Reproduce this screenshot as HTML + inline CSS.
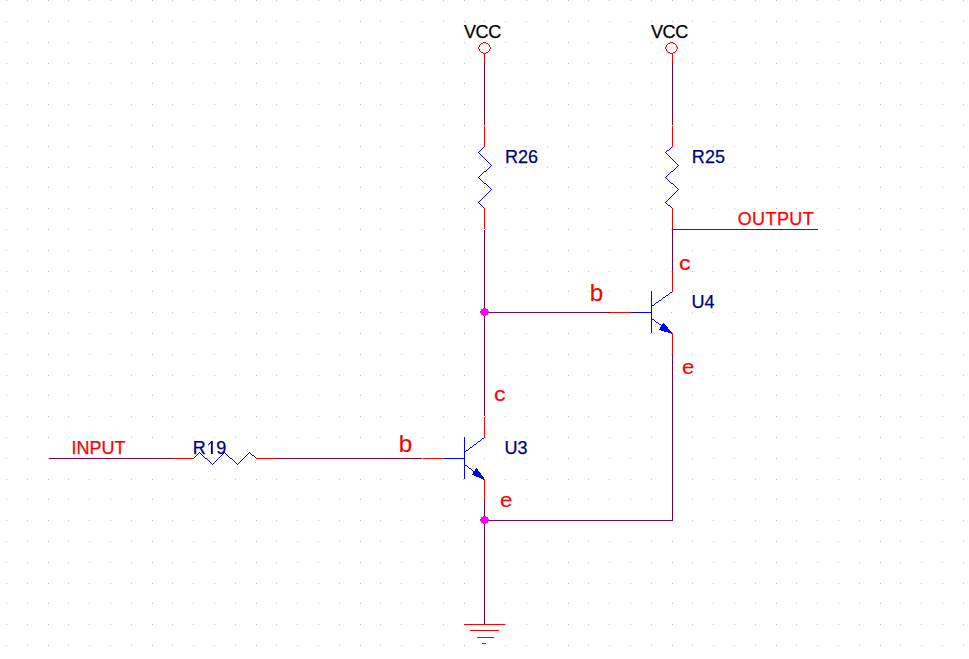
<!DOCTYPE html>
<html><head><meta charset="utf-8"><style>
html,body{margin:0;padding:0;background:#fff;width:969px;height:659px;overflow:hidden}
svg{display:block}
text{font-family:"Liberation Sans",sans-serif;stroke-width:0.25px}
</style></head><body>
<svg width="969" height="659" viewBox="0 0 969 659">
<path d="M6 0h1v1h-1zM6 21h1v1h-1zM6 42h1v1h-1zM6 63h1v1h-1zM6 83h1v1h-1zM6 104h1v1h-1zM6 125h1v1h-1zM6 146h1v1h-1zM6 167h1v1h-1zM6 187h1v1h-1zM6 208h1v1h-1zM6 229h1v1h-1zM6 250h1v1h-1zM6 271h1v1h-1zM6 291h1v1h-1zM6 312h1v1h-1zM6 333h1v1h-1zM6 354h1v1h-1zM6 375h1v1h-1zM6 395h1v1h-1zM6 416h1v1h-1zM6 437h1v1h-1zM6 458h1v1h-1zM6 479h1v1h-1zM6 499h1v1h-1zM6 520h1v1h-1zM6 541h1v1h-1zM6 562h1v1h-1zM6 583h1v1h-1zM6 603h1v1h-1zM6 624h1v1h-1zM6 645h1v1h-1zM27 0h1v1h-1zM27 21h1v1h-1zM27 42h1v1h-1zM27 63h1v1h-1zM27 83h1v1h-1zM27 104h1v1h-1zM27 125h1v1h-1zM27 146h1v1h-1zM27 167h1v1h-1zM27 187h1v1h-1zM27 208h1v1h-1zM27 229h1v1h-1zM27 250h1v1h-1zM27 271h1v1h-1zM27 291h1v1h-1zM27 312h1v1h-1zM27 333h1v1h-1zM27 354h1v1h-1zM27 375h1v1h-1zM27 395h1v1h-1zM27 416h1v1h-1zM27 437h1v1h-1zM27 458h1v1h-1zM27 479h1v1h-1zM27 499h1v1h-1zM27 520h1v1h-1zM27 541h1v1h-1zM27 562h1v1h-1zM27 583h1v1h-1zM27 603h1v1h-1zM27 624h1v1h-1zM27 645h1v1h-1zM48 0h1v1h-1zM48 21h1v1h-1zM48 42h1v1h-1zM48 63h1v1h-1zM48 83h1v1h-1zM48 104h1v1h-1zM48 125h1v1h-1zM48 146h1v1h-1zM48 167h1v1h-1zM48 187h1v1h-1zM48 208h1v1h-1zM48 229h1v1h-1zM48 250h1v1h-1zM48 271h1v1h-1zM48 291h1v1h-1zM48 312h1v1h-1zM48 333h1v1h-1zM48 354h1v1h-1zM48 375h1v1h-1zM48 395h1v1h-1zM48 416h1v1h-1zM48 437h1v1h-1zM48 458h1v1h-1zM48 479h1v1h-1zM48 499h1v1h-1zM48 520h1v1h-1zM48 541h1v1h-1zM48 562h1v1h-1zM48 583h1v1h-1zM48 603h1v1h-1zM48 624h1v1h-1zM48 645h1v1h-1zM68 0h1v1h-1zM68 21h1v1h-1zM68 42h1v1h-1zM68 63h1v1h-1zM68 83h1v1h-1zM68 104h1v1h-1zM68 125h1v1h-1zM68 146h1v1h-1zM68 167h1v1h-1zM68 187h1v1h-1zM68 208h1v1h-1zM68 229h1v1h-1zM68 250h1v1h-1zM68 271h1v1h-1zM68 291h1v1h-1zM68 312h1v1h-1zM68 333h1v1h-1zM68 354h1v1h-1zM68 375h1v1h-1zM68 395h1v1h-1zM68 416h1v1h-1zM68 437h1v1h-1zM68 458h1v1h-1zM68 479h1v1h-1zM68 499h1v1h-1zM68 520h1v1h-1zM68 541h1v1h-1zM68 562h1v1h-1zM68 583h1v1h-1zM68 603h1v1h-1zM68 624h1v1h-1zM68 645h1v1h-1zM89 0h1v1h-1zM89 21h1v1h-1zM89 42h1v1h-1zM89 63h1v1h-1zM89 83h1v1h-1zM89 104h1v1h-1zM89 125h1v1h-1zM89 146h1v1h-1zM89 167h1v1h-1zM89 187h1v1h-1zM89 208h1v1h-1zM89 229h1v1h-1zM89 250h1v1h-1zM89 271h1v1h-1zM89 291h1v1h-1zM89 312h1v1h-1zM89 333h1v1h-1zM89 354h1v1h-1zM89 375h1v1h-1zM89 395h1v1h-1zM89 416h1v1h-1zM89 437h1v1h-1zM89 458h1v1h-1zM89 479h1v1h-1zM89 499h1v1h-1zM89 520h1v1h-1zM89 541h1v1h-1zM89 562h1v1h-1zM89 583h1v1h-1zM89 603h1v1h-1zM89 624h1v1h-1zM89 645h1v1h-1zM110 0h1v1h-1zM110 21h1v1h-1zM110 42h1v1h-1zM110 63h1v1h-1zM110 83h1v1h-1zM110 104h1v1h-1zM110 125h1v1h-1zM110 146h1v1h-1zM110 167h1v1h-1zM110 187h1v1h-1zM110 208h1v1h-1zM110 229h1v1h-1zM110 250h1v1h-1zM110 271h1v1h-1zM110 291h1v1h-1zM110 312h1v1h-1zM110 333h1v1h-1zM110 354h1v1h-1zM110 375h1v1h-1zM110 395h1v1h-1zM110 416h1v1h-1zM110 437h1v1h-1zM110 458h1v1h-1zM110 479h1v1h-1zM110 499h1v1h-1zM110 520h1v1h-1zM110 541h1v1h-1zM110 562h1v1h-1zM110 583h1v1h-1zM110 603h1v1h-1zM110 624h1v1h-1zM110 645h1v1h-1zM131 0h1v1h-1zM131 21h1v1h-1zM131 42h1v1h-1zM131 63h1v1h-1zM131 83h1v1h-1zM131 104h1v1h-1zM131 125h1v1h-1zM131 146h1v1h-1zM131 167h1v1h-1zM131 187h1v1h-1zM131 208h1v1h-1zM131 229h1v1h-1zM131 250h1v1h-1zM131 271h1v1h-1zM131 291h1v1h-1zM131 312h1v1h-1zM131 333h1v1h-1zM131 354h1v1h-1zM131 375h1v1h-1zM131 395h1v1h-1zM131 416h1v1h-1zM131 437h1v1h-1zM131 458h1v1h-1zM131 479h1v1h-1zM131 499h1v1h-1zM131 520h1v1h-1zM131 541h1v1h-1zM131 562h1v1h-1zM131 583h1v1h-1zM131 603h1v1h-1zM131 624h1v1h-1zM131 645h1v1h-1zM152 0h1v1h-1zM152 21h1v1h-1zM152 42h1v1h-1zM152 63h1v1h-1zM152 83h1v1h-1zM152 104h1v1h-1zM152 125h1v1h-1zM152 146h1v1h-1zM152 167h1v1h-1zM152 187h1v1h-1zM152 208h1v1h-1zM152 229h1v1h-1zM152 250h1v1h-1zM152 271h1v1h-1zM152 291h1v1h-1zM152 312h1v1h-1zM152 333h1v1h-1zM152 354h1v1h-1zM152 375h1v1h-1zM152 395h1v1h-1zM152 416h1v1h-1zM152 437h1v1h-1zM152 458h1v1h-1zM152 479h1v1h-1zM152 499h1v1h-1zM152 520h1v1h-1zM152 541h1v1h-1zM152 562h1v1h-1zM152 583h1v1h-1zM152 603h1v1h-1zM152 624h1v1h-1zM152 645h1v1h-1zM172 0h1v1h-1zM172 21h1v1h-1zM172 42h1v1h-1zM172 63h1v1h-1zM172 83h1v1h-1zM172 104h1v1h-1zM172 125h1v1h-1zM172 146h1v1h-1zM172 167h1v1h-1zM172 187h1v1h-1zM172 208h1v1h-1zM172 229h1v1h-1zM172 250h1v1h-1zM172 271h1v1h-1zM172 291h1v1h-1zM172 312h1v1h-1zM172 333h1v1h-1zM172 354h1v1h-1zM172 375h1v1h-1zM172 395h1v1h-1zM172 416h1v1h-1zM172 437h1v1h-1zM172 458h1v1h-1zM172 479h1v1h-1zM172 499h1v1h-1zM172 520h1v1h-1zM172 541h1v1h-1zM172 562h1v1h-1zM172 583h1v1h-1zM172 603h1v1h-1zM172 624h1v1h-1zM172 645h1v1h-1zM193 0h1v1h-1zM193 21h1v1h-1zM193 42h1v1h-1zM193 63h1v1h-1zM193 83h1v1h-1zM193 104h1v1h-1zM193 125h1v1h-1zM193 146h1v1h-1zM193 167h1v1h-1zM193 187h1v1h-1zM193 208h1v1h-1zM193 229h1v1h-1zM193 250h1v1h-1zM193 271h1v1h-1zM193 291h1v1h-1zM193 312h1v1h-1zM193 333h1v1h-1zM193 354h1v1h-1zM193 375h1v1h-1zM193 395h1v1h-1zM193 416h1v1h-1zM193 437h1v1h-1zM193 458h1v1h-1zM193 479h1v1h-1zM193 499h1v1h-1zM193 520h1v1h-1zM193 541h1v1h-1zM193 562h1v1h-1zM193 583h1v1h-1zM193 603h1v1h-1zM193 624h1v1h-1zM193 645h1v1h-1zM214 0h1v1h-1zM214 21h1v1h-1zM214 42h1v1h-1zM214 63h1v1h-1zM214 83h1v1h-1zM214 104h1v1h-1zM214 125h1v1h-1zM214 146h1v1h-1zM214 167h1v1h-1zM214 187h1v1h-1zM214 208h1v1h-1zM214 229h1v1h-1zM214 250h1v1h-1zM214 271h1v1h-1zM214 291h1v1h-1zM214 312h1v1h-1zM214 333h1v1h-1zM214 354h1v1h-1zM214 375h1v1h-1zM214 395h1v1h-1zM214 416h1v1h-1zM214 437h1v1h-1zM214 458h1v1h-1zM214 479h1v1h-1zM214 499h1v1h-1zM214 520h1v1h-1zM214 541h1v1h-1zM214 562h1v1h-1zM214 583h1v1h-1zM214 603h1v1h-1zM214 624h1v1h-1zM214 645h1v1h-1zM235 0h1v1h-1zM235 21h1v1h-1zM235 42h1v1h-1zM235 63h1v1h-1zM235 83h1v1h-1zM235 104h1v1h-1zM235 125h1v1h-1zM235 146h1v1h-1zM235 167h1v1h-1zM235 187h1v1h-1zM235 208h1v1h-1zM235 229h1v1h-1zM235 250h1v1h-1zM235 271h1v1h-1zM235 291h1v1h-1zM235 312h1v1h-1zM235 333h1v1h-1zM235 354h1v1h-1zM235 375h1v1h-1zM235 395h1v1h-1zM235 416h1v1h-1zM235 437h1v1h-1zM235 458h1v1h-1zM235 479h1v1h-1zM235 499h1v1h-1zM235 520h1v1h-1zM235 541h1v1h-1zM235 562h1v1h-1zM235 583h1v1h-1zM235 603h1v1h-1zM235 624h1v1h-1zM235 645h1v1h-1zM256 0h1v1h-1zM256 21h1v1h-1zM256 42h1v1h-1zM256 63h1v1h-1zM256 83h1v1h-1zM256 104h1v1h-1zM256 125h1v1h-1zM256 146h1v1h-1zM256 167h1v1h-1zM256 187h1v1h-1zM256 208h1v1h-1zM256 229h1v1h-1zM256 250h1v1h-1zM256 271h1v1h-1zM256 291h1v1h-1zM256 312h1v1h-1zM256 333h1v1h-1zM256 354h1v1h-1zM256 375h1v1h-1zM256 395h1v1h-1zM256 416h1v1h-1zM256 437h1v1h-1zM256 458h1v1h-1zM256 479h1v1h-1zM256 499h1v1h-1zM256 520h1v1h-1zM256 541h1v1h-1zM256 562h1v1h-1zM256 583h1v1h-1zM256 603h1v1h-1zM256 624h1v1h-1zM256 645h1v1h-1zM276 0h1v1h-1zM276 21h1v1h-1zM276 42h1v1h-1zM276 63h1v1h-1zM276 83h1v1h-1zM276 104h1v1h-1zM276 125h1v1h-1zM276 146h1v1h-1zM276 167h1v1h-1zM276 187h1v1h-1zM276 208h1v1h-1zM276 229h1v1h-1zM276 250h1v1h-1zM276 271h1v1h-1zM276 291h1v1h-1zM276 312h1v1h-1zM276 333h1v1h-1zM276 354h1v1h-1zM276 375h1v1h-1zM276 395h1v1h-1zM276 416h1v1h-1zM276 437h1v1h-1zM276 458h1v1h-1zM276 479h1v1h-1zM276 499h1v1h-1zM276 520h1v1h-1zM276 541h1v1h-1zM276 562h1v1h-1zM276 583h1v1h-1zM276 603h1v1h-1zM276 624h1v1h-1zM276 645h1v1h-1zM297 0h1v1h-1zM297 21h1v1h-1zM297 42h1v1h-1zM297 63h1v1h-1zM297 83h1v1h-1zM297 104h1v1h-1zM297 125h1v1h-1zM297 146h1v1h-1zM297 167h1v1h-1zM297 187h1v1h-1zM297 208h1v1h-1zM297 229h1v1h-1zM297 250h1v1h-1zM297 271h1v1h-1zM297 291h1v1h-1zM297 312h1v1h-1zM297 333h1v1h-1zM297 354h1v1h-1zM297 375h1v1h-1zM297 395h1v1h-1zM297 416h1v1h-1zM297 437h1v1h-1zM297 458h1v1h-1zM297 479h1v1h-1zM297 499h1v1h-1zM297 520h1v1h-1zM297 541h1v1h-1zM297 562h1v1h-1zM297 583h1v1h-1zM297 603h1v1h-1zM297 624h1v1h-1zM297 645h1v1h-1zM318 0h1v1h-1zM318 21h1v1h-1zM318 42h1v1h-1zM318 63h1v1h-1zM318 83h1v1h-1zM318 104h1v1h-1zM318 125h1v1h-1zM318 146h1v1h-1zM318 167h1v1h-1zM318 187h1v1h-1zM318 208h1v1h-1zM318 229h1v1h-1zM318 250h1v1h-1zM318 271h1v1h-1zM318 291h1v1h-1zM318 312h1v1h-1zM318 333h1v1h-1zM318 354h1v1h-1zM318 375h1v1h-1zM318 395h1v1h-1zM318 416h1v1h-1zM318 437h1v1h-1zM318 458h1v1h-1zM318 479h1v1h-1zM318 499h1v1h-1zM318 520h1v1h-1zM318 541h1v1h-1zM318 562h1v1h-1zM318 583h1v1h-1zM318 603h1v1h-1zM318 624h1v1h-1zM318 645h1v1h-1zM339 0h1v1h-1zM339 21h1v1h-1zM339 42h1v1h-1zM339 63h1v1h-1zM339 83h1v1h-1zM339 104h1v1h-1zM339 125h1v1h-1zM339 146h1v1h-1zM339 167h1v1h-1zM339 187h1v1h-1zM339 208h1v1h-1zM339 229h1v1h-1zM339 250h1v1h-1zM339 271h1v1h-1zM339 291h1v1h-1zM339 312h1v1h-1zM339 333h1v1h-1zM339 354h1v1h-1zM339 375h1v1h-1zM339 395h1v1h-1zM339 416h1v1h-1zM339 437h1v1h-1zM339 458h1v1h-1zM339 479h1v1h-1zM339 499h1v1h-1zM339 520h1v1h-1zM339 541h1v1h-1zM339 562h1v1h-1zM339 583h1v1h-1zM339 603h1v1h-1zM339 624h1v1h-1zM339 645h1v1h-1zM360 0h1v1h-1zM360 21h1v1h-1zM360 42h1v1h-1zM360 63h1v1h-1zM360 83h1v1h-1zM360 104h1v1h-1zM360 125h1v1h-1zM360 146h1v1h-1zM360 167h1v1h-1zM360 187h1v1h-1zM360 208h1v1h-1zM360 229h1v1h-1zM360 250h1v1h-1zM360 271h1v1h-1zM360 291h1v1h-1zM360 312h1v1h-1zM360 333h1v1h-1zM360 354h1v1h-1zM360 375h1v1h-1zM360 395h1v1h-1zM360 416h1v1h-1zM360 437h1v1h-1zM360 458h1v1h-1zM360 479h1v1h-1zM360 499h1v1h-1zM360 520h1v1h-1zM360 541h1v1h-1zM360 562h1v1h-1zM360 583h1v1h-1zM360 603h1v1h-1zM360 624h1v1h-1zM360 645h1v1h-1zM380 0h1v1h-1zM380 21h1v1h-1zM380 42h1v1h-1zM380 63h1v1h-1zM380 83h1v1h-1zM380 104h1v1h-1zM380 125h1v1h-1zM380 146h1v1h-1zM380 167h1v1h-1zM380 187h1v1h-1zM380 208h1v1h-1zM380 229h1v1h-1zM380 250h1v1h-1zM380 271h1v1h-1zM380 291h1v1h-1zM380 312h1v1h-1zM380 333h1v1h-1zM380 354h1v1h-1zM380 375h1v1h-1zM380 395h1v1h-1zM380 416h1v1h-1zM380 437h1v1h-1zM380 458h1v1h-1zM380 479h1v1h-1zM380 499h1v1h-1zM380 520h1v1h-1zM380 541h1v1h-1zM380 562h1v1h-1zM380 583h1v1h-1zM380 603h1v1h-1zM380 624h1v1h-1zM380 645h1v1h-1zM401 0h1v1h-1zM401 21h1v1h-1zM401 42h1v1h-1zM401 63h1v1h-1zM401 83h1v1h-1zM401 104h1v1h-1zM401 125h1v1h-1zM401 146h1v1h-1zM401 167h1v1h-1zM401 187h1v1h-1zM401 208h1v1h-1zM401 229h1v1h-1zM401 250h1v1h-1zM401 271h1v1h-1zM401 291h1v1h-1zM401 312h1v1h-1zM401 333h1v1h-1zM401 354h1v1h-1zM401 375h1v1h-1zM401 395h1v1h-1zM401 416h1v1h-1zM401 437h1v1h-1zM401 458h1v1h-1zM401 479h1v1h-1zM401 499h1v1h-1zM401 520h1v1h-1zM401 541h1v1h-1zM401 562h1v1h-1zM401 583h1v1h-1zM401 603h1v1h-1zM401 624h1v1h-1zM401 645h1v1h-1zM422 0h1v1h-1zM422 21h1v1h-1zM422 42h1v1h-1zM422 63h1v1h-1zM422 83h1v1h-1zM422 104h1v1h-1zM422 125h1v1h-1zM422 146h1v1h-1zM422 167h1v1h-1zM422 187h1v1h-1zM422 208h1v1h-1zM422 229h1v1h-1zM422 250h1v1h-1zM422 271h1v1h-1zM422 291h1v1h-1zM422 312h1v1h-1zM422 333h1v1h-1zM422 354h1v1h-1zM422 375h1v1h-1zM422 395h1v1h-1zM422 416h1v1h-1zM422 437h1v1h-1zM422 458h1v1h-1zM422 479h1v1h-1zM422 499h1v1h-1zM422 520h1v1h-1zM422 541h1v1h-1zM422 562h1v1h-1zM422 583h1v1h-1zM422 603h1v1h-1zM422 624h1v1h-1zM422 645h1v1h-1zM443 0h1v1h-1zM443 21h1v1h-1zM443 42h1v1h-1zM443 63h1v1h-1zM443 83h1v1h-1zM443 104h1v1h-1zM443 125h1v1h-1zM443 146h1v1h-1zM443 167h1v1h-1zM443 187h1v1h-1zM443 208h1v1h-1zM443 229h1v1h-1zM443 250h1v1h-1zM443 271h1v1h-1zM443 291h1v1h-1zM443 312h1v1h-1zM443 333h1v1h-1zM443 354h1v1h-1zM443 375h1v1h-1zM443 395h1v1h-1zM443 416h1v1h-1zM443 437h1v1h-1zM443 458h1v1h-1zM443 479h1v1h-1zM443 499h1v1h-1zM443 520h1v1h-1zM443 541h1v1h-1zM443 562h1v1h-1zM443 583h1v1h-1zM443 603h1v1h-1zM443 624h1v1h-1zM443 645h1v1h-1zM464 0h1v1h-1zM464 21h1v1h-1zM464 42h1v1h-1zM464 63h1v1h-1zM464 83h1v1h-1zM464 104h1v1h-1zM464 125h1v1h-1zM464 146h1v1h-1zM464 167h1v1h-1zM464 187h1v1h-1zM464 208h1v1h-1zM464 229h1v1h-1zM464 250h1v1h-1zM464 271h1v1h-1zM464 291h1v1h-1zM464 312h1v1h-1zM464 333h1v1h-1zM464 354h1v1h-1zM464 375h1v1h-1zM464 395h1v1h-1zM464 416h1v1h-1zM464 437h1v1h-1zM464 458h1v1h-1zM463 479h1v1h-1zM464 499h1v1h-1zM464 520h1v1h-1zM464 541h1v1h-1zM464 562h1v1h-1zM464 583h1v1h-1zM464 603h1v1h-1zM464 624h1v1h-1zM464 645h1v1h-1zM484 0h1v1h-1zM484 21h1v1h-1zM484 42h1v1h-1zM484 63h1v1h-1zM484 83h1v1h-1zM484 104h1v1h-1zM484 125h1v1h-1zM484 146h1v1h-1zM484 167h1v1h-1zM484 187h1v1h-1zM484 208h1v1h-1zM485 229h1v1h-1zM484 250h1v1h-1zM484 271h1v1h-1zM484 291h1v1h-1zM484 312h1v1h-1zM484 333h1v1h-1zM484 354h1v1h-1zM484 375h1v1h-1zM484 395h1v1h-1zM485 416h1v1h-1zM485 437h1v1h-1zM484 458h1v1h-1zM484 479h1v1h-1zM484 499h1v1h-1zM484 520h1v1h-1zM484 541h1v1h-1zM484 562h1v1h-1zM484 583h1v1h-1zM484 603h1v1h-1zM484 624h1v1h-1zM484 645h1v1h-1zM505 0h1v1h-1zM505 21h1v1h-1zM505 42h1v1h-1zM505 63h1v1h-1zM505 83h1v1h-1zM505 104h1v1h-1zM505 125h1v1h-1zM505 146h1v1h-1zM505 167h1v1h-1zM505 187h1v1h-1zM505 208h1v1h-1zM505 229h1v1h-1zM505 250h1v1h-1zM505 271h1v1h-1zM505 291h1v1h-1zM505 312h1v1h-1zM505 333h1v1h-1zM505 354h1v1h-1zM505 375h1v1h-1zM505 395h1v1h-1zM505 416h1v1h-1zM505 437h1v1h-1zM505 458h1v1h-1zM505 479h1v1h-1zM505 499h1v1h-1zM505 520h1v1h-1zM505 541h1v1h-1zM505 562h1v1h-1zM505 583h1v1h-1zM505 603h1v1h-1zM505 624h1v1h-1zM505 645h1v1h-1zM526 0h1v1h-1zM526 21h1v1h-1zM526 42h1v1h-1zM526 63h1v1h-1zM526 83h1v1h-1zM526 104h1v1h-1zM526 125h1v1h-1zM526 146h1v1h-1zM526 167h1v1h-1zM526 187h1v1h-1zM526 208h1v1h-1zM526 229h1v1h-1zM526 250h1v1h-1zM526 271h1v1h-1zM526 291h1v1h-1zM526 312h1v1h-1zM526 333h1v1h-1zM526 354h1v1h-1zM526 375h1v1h-1zM526 395h1v1h-1zM526 416h1v1h-1zM526 437h1v1h-1zM526 458h1v1h-1zM526 479h1v1h-1zM526 499h1v1h-1zM526 520h1v1h-1zM526 541h1v1h-1zM526 562h1v1h-1zM526 583h1v1h-1zM526 603h1v1h-1zM526 624h1v1h-1zM526 645h1v1h-1zM547 0h1v1h-1zM547 21h1v1h-1zM547 42h1v1h-1zM547 63h1v1h-1zM547 83h1v1h-1zM547 104h1v1h-1zM547 125h1v1h-1zM547 146h1v1h-1zM547 167h1v1h-1zM547 187h1v1h-1zM547 208h1v1h-1zM547 229h1v1h-1zM547 250h1v1h-1zM547 271h1v1h-1zM547 291h1v1h-1zM547 312h1v1h-1zM547 333h1v1h-1zM547 354h1v1h-1zM547 375h1v1h-1zM547 395h1v1h-1zM547 416h1v1h-1zM547 437h1v1h-1zM547 458h1v1h-1zM547 479h1v1h-1zM547 499h1v1h-1zM547 520h1v1h-1zM547 541h1v1h-1zM547 562h1v1h-1zM547 583h1v1h-1zM547 603h1v1h-1zM547 624h1v1h-1zM547 645h1v1h-1zM568 0h1v1h-1zM568 21h1v1h-1zM568 42h1v1h-1zM568 63h1v1h-1zM568 83h1v1h-1zM568 104h1v1h-1zM568 125h1v1h-1zM568 146h1v1h-1zM568 167h1v1h-1zM568 187h1v1h-1zM568 208h1v1h-1zM568 229h1v1h-1zM568 250h1v1h-1zM568 271h1v1h-1zM568 291h1v1h-1zM568 312h1v1h-1zM568 333h1v1h-1zM568 354h1v1h-1zM568 375h1v1h-1zM568 395h1v1h-1zM568 416h1v1h-1zM568 437h1v1h-1zM568 458h1v1h-1zM568 479h1v1h-1zM568 499h1v1h-1zM568 520h1v1h-1zM568 541h1v1h-1zM568 562h1v1h-1zM568 583h1v1h-1zM568 603h1v1h-1zM568 624h1v1h-1zM568 645h1v1h-1zM588 0h1v1h-1zM588 21h1v1h-1zM588 42h1v1h-1zM588 63h1v1h-1zM588 83h1v1h-1zM588 104h1v1h-1zM588 125h1v1h-1zM588 146h1v1h-1zM588 167h1v1h-1zM588 187h1v1h-1zM588 208h1v1h-1zM588 229h1v1h-1zM588 250h1v1h-1zM588 271h1v1h-1zM588 291h1v1h-1zM588 312h1v1h-1zM588 333h1v1h-1zM588 354h1v1h-1zM588 375h1v1h-1zM588 395h1v1h-1zM588 416h1v1h-1zM588 437h1v1h-1zM588 458h1v1h-1zM588 479h1v1h-1zM588 499h1v1h-1zM588 520h1v1h-1zM588 541h1v1h-1zM588 562h1v1h-1zM588 583h1v1h-1zM588 603h1v1h-1zM588 624h1v1h-1zM588 645h1v1h-1zM609 0h1v1h-1zM609 21h1v1h-1zM609 42h1v1h-1zM609 63h1v1h-1zM609 83h1v1h-1zM609 104h1v1h-1zM609 125h1v1h-1zM609 146h1v1h-1zM609 167h1v1h-1zM609 187h1v1h-1zM609 208h1v1h-1zM609 229h1v1h-1zM609 250h1v1h-1zM609 271h1v1h-1zM609 291h1v1h-1zM609 312h1v1h-1zM609 333h1v1h-1zM609 354h1v1h-1zM609 375h1v1h-1zM609 395h1v1h-1zM609 416h1v1h-1zM609 437h1v1h-1zM609 458h1v1h-1zM609 479h1v1h-1zM609 499h1v1h-1zM609 520h1v1h-1zM609 541h1v1h-1zM609 562h1v1h-1zM609 583h1v1h-1zM609 603h1v1h-1zM609 624h1v1h-1zM609 645h1v1h-1zM630 0h1v1h-1zM630 21h1v1h-1zM630 42h1v1h-1zM630 63h1v1h-1zM630 83h1v1h-1zM630 104h1v1h-1zM630 125h1v1h-1zM630 146h1v1h-1zM630 167h1v1h-1zM630 187h1v1h-1zM630 208h1v1h-1zM630 229h1v1h-1zM630 250h1v1h-1zM630 271h1v1h-1zM630 291h1v1h-1zM630 312h1v1h-1zM630 333h1v1h-1zM630 354h1v1h-1zM630 375h1v1h-1zM630 395h1v1h-1zM630 416h1v1h-1zM630 437h1v1h-1zM630 458h1v1h-1zM630 479h1v1h-1zM630 499h1v1h-1zM630 520h1v1h-1zM630 541h1v1h-1zM630 562h1v1h-1zM630 583h1v1h-1zM630 603h1v1h-1zM630 624h1v1h-1zM630 645h1v1h-1zM651 0h1v1h-1zM651 21h1v1h-1zM651 42h1v1h-1zM651 63h1v1h-1zM651 83h1v1h-1zM651 104h1v1h-1zM651 125h1v1h-1zM651 146h1v1h-1zM651 167h1v1h-1zM651 187h1v1h-1zM651 208h1v1h-1zM651 229h1v1h-1zM651 250h1v1h-1zM651 271h1v1h-1zM651 291h1v1h-1zM651 312h1v1h-1zM650 333h1v1h-1zM651 354h1v1h-1zM651 375h1v1h-1zM651 395h1v1h-1zM651 416h1v1h-1zM651 437h1v1h-1zM651 458h1v1h-1zM651 479h1v1h-1zM651 499h1v1h-1zM651 520h1v1h-1zM651 541h1v1h-1zM651 562h1v1h-1zM651 583h1v1h-1zM651 603h1v1h-1zM651 624h1v1h-1zM651 645h1v1h-1zM672 0h1v1h-1zM672 21h1v1h-1zM672 42h1v1h-1zM672 63h1v1h-1zM672 83h1v1h-1zM672 104h1v1h-1zM672 125h1v1h-1zM672 146h1v1h-1zM672 167h1v1h-1zM672 187h1v1h-1zM672 208h1v1h-1zM671 229h1v1h-1zM672 250h1v1h-1zM671 271h1v1h-1zM672 291h1v1h-1zM671 312h1v1h-1zM672 333h1v1h-1zM671 354h1v1h-1zM672 375h1v1h-1zM672 395h1v1h-1zM672 416h1v1h-1zM672 437h1v1h-1zM672 458h1v1h-1zM672 479h1v1h-1zM672 499h1v1h-1zM672 520h1v1h-1zM672 541h1v1h-1zM672 562h1v1h-1zM672 583h1v1h-1zM672 603h1v1h-1zM672 624h1v1h-1zM672 645h1v1h-1zM692 0h1v1h-1zM692 21h1v1h-1zM692 42h1v1h-1zM692 63h1v1h-1zM692 83h1v1h-1zM692 104h1v1h-1zM692 125h1v1h-1zM692 146h1v1h-1zM692 167h1v1h-1zM692 187h1v1h-1zM692 208h1v1h-1zM692 229h1v1h-1zM692 250h1v1h-1zM692 271h1v1h-1zM692 291h1v1h-1zM692 312h1v1h-1zM692 333h1v1h-1zM692 354h1v1h-1zM692 375h1v1h-1zM692 395h1v1h-1zM692 416h1v1h-1zM692 437h1v1h-1zM692 458h1v1h-1zM692 479h1v1h-1zM692 499h1v1h-1zM692 520h1v1h-1zM692 541h1v1h-1zM692 562h1v1h-1zM692 583h1v1h-1zM692 603h1v1h-1zM692 624h1v1h-1zM692 645h1v1h-1zM713 0h1v1h-1zM713 21h1v1h-1zM713 42h1v1h-1zM713 63h1v1h-1zM713 83h1v1h-1zM713 104h1v1h-1zM713 125h1v1h-1zM713 146h1v1h-1zM713 167h1v1h-1zM713 187h1v1h-1zM713 208h1v1h-1zM713 229h1v1h-1zM713 250h1v1h-1zM713 271h1v1h-1zM713 291h1v1h-1zM713 312h1v1h-1zM713 333h1v1h-1zM713 354h1v1h-1zM713 375h1v1h-1zM713 395h1v1h-1zM713 416h1v1h-1zM713 437h1v1h-1zM713 458h1v1h-1zM713 479h1v1h-1zM713 499h1v1h-1zM713 520h1v1h-1zM713 541h1v1h-1zM713 562h1v1h-1zM713 583h1v1h-1zM713 603h1v1h-1zM713 624h1v1h-1zM713 645h1v1h-1zM734 0h1v1h-1zM734 21h1v1h-1zM734 42h1v1h-1zM734 63h1v1h-1zM734 83h1v1h-1zM734 104h1v1h-1zM734 125h1v1h-1zM734 146h1v1h-1zM734 167h1v1h-1zM734 187h1v1h-1zM734 208h1v1h-1zM734 229h1v1h-1zM734 250h1v1h-1zM734 271h1v1h-1zM734 291h1v1h-1zM734 312h1v1h-1zM734 333h1v1h-1zM734 354h1v1h-1zM734 375h1v1h-1zM734 395h1v1h-1zM734 416h1v1h-1zM734 437h1v1h-1zM734 458h1v1h-1zM734 479h1v1h-1zM734 499h1v1h-1zM734 520h1v1h-1zM734 541h1v1h-1zM734 562h1v1h-1zM734 583h1v1h-1zM734 603h1v1h-1zM734 624h1v1h-1zM734 645h1v1h-1zM755 0h1v1h-1zM755 21h1v1h-1zM755 42h1v1h-1zM755 63h1v1h-1zM755 83h1v1h-1zM755 104h1v1h-1zM755 125h1v1h-1zM755 146h1v1h-1zM755 167h1v1h-1zM755 187h1v1h-1zM754 208h1v1h-1zM755 229h1v1h-1zM755 250h1v1h-1zM755 271h1v1h-1zM755 291h1v1h-1zM755 312h1v1h-1zM755 333h1v1h-1zM755 354h1v1h-1zM755 375h1v1h-1zM755 395h1v1h-1zM755 416h1v1h-1zM755 437h1v1h-1zM755 458h1v1h-1zM755 479h1v1h-1zM755 499h1v1h-1zM755 520h1v1h-1zM755 541h1v1h-1zM755 562h1v1h-1zM755 583h1v1h-1zM755 603h1v1h-1zM755 624h1v1h-1zM755 645h1v1h-1zM776 0h1v1h-1zM776 21h1v1h-1zM776 42h1v1h-1zM776 63h1v1h-1zM776 83h1v1h-1zM776 104h1v1h-1zM776 125h1v1h-1zM776 146h1v1h-1zM776 167h1v1h-1zM776 187h1v1h-1zM776 208h1v1h-1zM776 229h1v1h-1zM776 250h1v1h-1zM776 271h1v1h-1zM776 291h1v1h-1zM776 312h1v1h-1zM776 333h1v1h-1zM776 354h1v1h-1zM776 375h1v1h-1zM776 395h1v1h-1zM776 416h1v1h-1zM776 437h1v1h-1zM776 458h1v1h-1zM776 479h1v1h-1zM776 499h1v1h-1zM776 520h1v1h-1zM776 541h1v1h-1zM776 562h1v1h-1zM776 583h1v1h-1zM776 603h1v1h-1zM776 624h1v1h-1zM776 645h1v1h-1zM796 0h1v1h-1zM796 21h1v1h-1zM796 42h1v1h-1zM796 63h1v1h-1zM796 83h1v1h-1zM796 104h1v1h-1zM796 125h1v1h-1zM796 146h1v1h-1zM796 167h1v1h-1zM796 187h1v1h-1zM796 208h1v1h-1zM796 229h1v1h-1zM796 250h1v1h-1zM796 271h1v1h-1zM796 291h1v1h-1zM796 312h1v1h-1zM796 333h1v1h-1zM796 354h1v1h-1zM796 375h1v1h-1zM796 395h1v1h-1zM796 416h1v1h-1zM796 437h1v1h-1zM796 458h1v1h-1zM796 479h1v1h-1zM796 499h1v1h-1zM796 520h1v1h-1zM796 541h1v1h-1zM796 562h1v1h-1zM796 583h1v1h-1zM796 603h1v1h-1zM796 624h1v1h-1zM796 645h1v1h-1zM817 0h1v1h-1zM817 21h1v1h-1zM817 42h1v1h-1zM817 63h1v1h-1zM817 83h1v1h-1zM817 104h1v1h-1zM817 125h1v1h-1zM817 146h1v1h-1zM817 167h1v1h-1zM817 187h1v1h-1zM817 208h1v1h-1zM817 229h1v1h-1zM817 250h1v1h-1zM817 271h1v1h-1zM817 291h1v1h-1zM817 312h1v1h-1zM817 333h1v1h-1zM817 354h1v1h-1zM817 375h1v1h-1zM817 395h1v1h-1zM817 416h1v1h-1zM817 437h1v1h-1zM817 458h1v1h-1zM817 479h1v1h-1zM817 499h1v1h-1zM817 520h1v1h-1zM817 541h1v1h-1zM817 562h1v1h-1zM817 583h1v1h-1zM817 603h1v1h-1zM817 624h1v1h-1zM817 645h1v1h-1zM838 0h1v1h-1zM838 21h1v1h-1zM838 42h1v1h-1zM838 63h1v1h-1zM838 83h1v1h-1zM838 104h1v1h-1zM838 125h1v1h-1zM838 146h1v1h-1zM838 167h1v1h-1zM838 187h1v1h-1zM838 208h1v1h-1zM838 229h1v1h-1zM838 250h1v1h-1zM838 271h1v1h-1zM838 291h1v1h-1zM838 312h1v1h-1zM838 333h1v1h-1zM838 354h1v1h-1zM838 375h1v1h-1zM838 395h1v1h-1zM838 416h1v1h-1zM838 437h1v1h-1zM838 458h1v1h-1zM838 479h1v1h-1zM838 499h1v1h-1zM838 520h1v1h-1zM838 541h1v1h-1zM838 562h1v1h-1zM838 583h1v1h-1zM838 603h1v1h-1zM838 624h1v1h-1zM838 645h1v1h-1zM859 0h1v1h-1zM859 21h1v1h-1zM859 42h1v1h-1zM859 63h1v1h-1zM859 83h1v1h-1zM859 104h1v1h-1zM859 125h1v1h-1zM859 146h1v1h-1zM859 167h1v1h-1zM859 187h1v1h-1zM859 208h1v1h-1zM859 229h1v1h-1zM859 250h1v1h-1zM859 271h1v1h-1zM859 291h1v1h-1zM859 312h1v1h-1zM859 333h1v1h-1zM859 354h1v1h-1zM859 375h1v1h-1zM859 395h1v1h-1zM859 416h1v1h-1zM859 437h1v1h-1zM859 458h1v1h-1zM859 479h1v1h-1zM859 499h1v1h-1zM859 520h1v1h-1zM859 541h1v1h-1zM859 562h1v1h-1zM859 583h1v1h-1zM859 603h1v1h-1zM859 624h1v1h-1zM859 645h1v1h-1zM880 0h1v1h-1zM880 21h1v1h-1zM880 42h1v1h-1zM880 63h1v1h-1zM880 83h1v1h-1zM880 104h1v1h-1zM880 125h1v1h-1zM880 146h1v1h-1zM880 167h1v1h-1zM880 187h1v1h-1zM880 208h1v1h-1zM880 229h1v1h-1zM880 250h1v1h-1zM880 271h1v1h-1zM880 291h1v1h-1zM880 312h1v1h-1zM880 333h1v1h-1zM880 354h1v1h-1zM880 375h1v1h-1zM880 395h1v1h-1zM880 416h1v1h-1zM880 437h1v1h-1zM880 458h1v1h-1zM880 479h1v1h-1zM880 499h1v1h-1zM880 520h1v1h-1zM880 541h1v1h-1zM880 562h1v1h-1zM880 583h1v1h-1zM880 603h1v1h-1zM880 624h1v1h-1zM880 645h1v1h-1zM900 0h1v1h-1zM900 21h1v1h-1zM900 42h1v1h-1zM900 63h1v1h-1zM900 83h1v1h-1zM900 104h1v1h-1zM900 125h1v1h-1zM900 146h1v1h-1zM900 167h1v1h-1zM900 187h1v1h-1zM900 208h1v1h-1zM900 229h1v1h-1zM900 250h1v1h-1zM900 271h1v1h-1zM900 291h1v1h-1zM900 312h1v1h-1zM900 333h1v1h-1zM900 354h1v1h-1zM900 375h1v1h-1zM900 395h1v1h-1zM900 416h1v1h-1zM900 437h1v1h-1zM900 458h1v1h-1zM900 479h1v1h-1zM900 499h1v1h-1zM900 520h1v1h-1zM900 541h1v1h-1zM900 562h1v1h-1zM900 583h1v1h-1zM900 603h1v1h-1zM900 624h1v1h-1zM900 645h1v1h-1zM921 0h1v1h-1zM921 21h1v1h-1zM921 42h1v1h-1zM921 63h1v1h-1zM921 83h1v1h-1zM921 104h1v1h-1zM921 125h1v1h-1zM921 146h1v1h-1zM921 167h1v1h-1zM921 187h1v1h-1zM921 208h1v1h-1zM921 229h1v1h-1zM921 250h1v1h-1zM921 271h1v1h-1zM921 291h1v1h-1zM921 312h1v1h-1zM921 333h1v1h-1zM921 354h1v1h-1zM921 375h1v1h-1zM921 395h1v1h-1zM921 416h1v1h-1zM921 437h1v1h-1zM921 458h1v1h-1zM921 479h1v1h-1zM921 499h1v1h-1zM921 520h1v1h-1zM921 541h1v1h-1zM921 562h1v1h-1zM921 583h1v1h-1zM921 603h1v1h-1zM921 624h1v1h-1zM921 645h1v1h-1zM942 0h1v1h-1zM942 21h1v1h-1zM942 42h1v1h-1zM942 63h1v1h-1zM942 83h1v1h-1zM942 104h1v1h-1zM942 125h1v1h-1zM942 146h1v1h-1zM942 167h1v1h-1zM942 187h1v1h-1zM942 208h1v1h-1zM942 229h1v1h-1zM942 250h1v1h-1zM942 271h1v1h-1zM942 291h1v1h-1zM942 312h1v1h-1zM942 333h1v1h-1zM942 354h1v1h-1zM942 375h1v1h-1zM942 395h1v1h-1zM942 416h1v1h-1zM942 437h1v1h-1zM942 458h1v1h-1zM942 479h1v1h-1zM942 499h1v1h-1zM942 520h1v1h-1zM942 541h1v1h-1zM942 562h1v1h-1zM942 583h1v1h-1zM942 603h1v1h-1zM942 624h1v1h-1zM942 645h1v1h-1zM963 0h1v1h-1zM963 21h1v1h-1zM963 42h1v1h-1zM963 63h1v1h-1zM963 83h1v1h-1zM963 104h1v1h-1zM963 125h1v1h-1zM963 146h1v1h-1zM963 167h1v1h-1zM963 187h1v1h-1zM963 208h1v1h-1zM963 229h1v1h-1zM963 250h1v1h-1zM963 271h1v1h-1zM963 291h1v1h-1zM963 312h1v1h-1zM963 333h1v1h-1zM963 354h1v1h-1zM963 375h1v1h-1zM963 395h1v1h-1zM963 416h1v1h-1zM963 437h1v1h-1zM963 458h1v1h-1zM963 479h1v1h-1zM963 499h1v1h-1zM963 520h1v1h-1zM963 541h1v1h-1zM963 562h1v1h-1zM963 583h1v1h-1zM963 603h1v1h-1zM963 624h1v1h-1zM963 645h1v1h-1z" fill="#bababa"/>
<g shape-rendering="crispEdges">
<path d="M484 63h1v1h-1zM672 63h1v1h-1zM484 64h1v1h-1zM672 64h1v1h-1zM484 65h1v1h-1zM672 65h1v1h-1zM484 66h1v1h-1zM672 66h1v1h-1zM484 67h1v1h-1zM672 67h1v1h-1zM484 68h1v1h-1zM672 68h1v1h-1zM484 69h1v1h-1zM672 69h1v1h-1zM484 70h1v1h-1zM672 70h1v1h-1zM484 71h1v1h-1zM672 71h1v1h-1zM484 72h1v1h-1zM672 72h1v1h-1zM484 73h1v1h-1zM672 73h1v1h-1zM484 74h1v1h-1zM672 74h1v1h-1zM484 75h1v1h-1zM672 75h1v1h-1zM484 76h1v1h-1zM672 76h1v1h-1zM484 77h1v1h-1zM672 77h1v1h-1zM484 78h1v1h-1zM672 78h1v1h-1zM484 79h1v1h-1zM672 79h1v1h-1zM484 80h1v1h-1zM672 80h1v1h-1zM484 81h1v1h-1zM672 81h1v1h-1zM484 82h1v1h-1zM672 82h1v1h-1zM484 83h1v1h-1zM672 83h1v1h-1zM484 84h1v1h-1zM672 84h1v1h-1zM484 85h1v1h-1zM672 85h1v1h-1zM484 86h1v1h-1zM672 86h1v1h-1zM484 87h1v1h-1zM672 87h1v1h-1zM484 88h1v1h-1zM672 88h1v1h-1zM484 89h1v1h-1zM672 89h1v1h-1zM484 90h1v1h-1zM672 90h1v1h-1zM484 91h1v1h-1zM672 91h1v1h-1zM484 92h1v1h-1zM672 92h1v1h-1zM484 93h1v1h-1zM672 93h1v1h-1zM484 94h1v1h-1zM672 94h1v1h-1zM484 95h1v1h-1zM672 95h1v1h-1zM484 96h1v1h-1zM672 96h1v1h-1zM484 97h1v1h-1zM672 97h1v1h-1zM484 98h1v1h-1zM672 98h1v1h-1zM484 99h1v1h-1zM672 99h1v1h-1zM484 100h1v1h-1zM672 100h1v1h-1zM484 101h1v1h-1zM672 101h1v1h-1zM484 102h1v1h-1zM672 102h1v1h-1zM484 103h1v1h-1zM672 103h1v1h-1zM484 104h1v1h-1zM672 104h1v1h-1zM484 105h1v1h-1zM672 105h1v1h-1zM484 106h1v1h-1zM672 106h1v1h-1zM484 107h1v1h-1zM672 107h1v1h-1zM484 108h1v1h-1zM672 108h1v1h-1zM484 109h1v1h-1zM672 109h1v1h-1zM484 110h1v1h-1zM672 110h1v1h-1zM484 111h1v1h-1zM672 111h1v1h-1zM484 112h1v1h-1zM672 112h1v1h-1zM484 113h1v1h-1zM672 113h1v1h-1zM484 114h1v1h-1zM672 114h1v1h-1zM484 115h1v1h-1zM672 115h1v1h-1zM484 116h1v1h-1zM672 116h1v1h-1zM484 117h1v1h-1zM672 117h1v1h-1zM484 118h1v1h-1zM672 118h1v1h-1zM484 119h1v1h-1zM672 119h1v1h-1zM484 120h1v1h-1zM672 120h1v1h-1zM484 121h1v1h-1zM672 121h1v1h-1zM484 122h1v1h-1zM672 122h1v1h-1zM484 123h1v1h-1zM672 123h1v1h-1zM484 124h1v1h-1zM672 124h1v1h-1zM672 229h146v1h-146zM484 230h1v1h-1zM672 230h1v1h-1zM484 231h1v1h-1zM672 231h1v1h-1zM484 232h1v1h-1zM672 232h1v1h-1zM484 233h1v1h-1zM672 233h1v1h-1zM484 234h1v1h-1zM672 234h1v1h-1zM484 235h1v1h-1zM672 235h1v1h-1zM484 236h1v1h-1zM672 236h1v1h-1zM484 237h1v1h-1zM672 237h1v1h-1zM484 238h1v1h-1zM672 238h1v1h-1zM484 239h1v1h-1zM672 239h1v1h-1zM484 240h1v1h-1zM672 240h1v1h-1zM484 241h1v1h-1zM672 241h1v1h-1zM484 242h1v1h-1zM672 242h1v1h-1zM484 243h1v1h-1zM672 243h1v1h-1zM484 244h1v1h-1zM672 244h1v1h-1zM484 245h1v1h-1zM672 245h1v1h-1zM484 246h1v1h-1zM672 246h1v1h-1zM484 247h1v1h-1zM672 247h1v1h-1zM484 248h1v1h-1zM672 248h1v1h-1zM484 249h1v1h-1zM672 249h1v1h-1zM484 250h1v1h-1zM672 250h1v1h-1zM484 251h1v1h-1zM672 251h1v1h-1zM484 252h1v1h-1zM672 252h1v1h-1zM484 253h1v1h-1zM672 253h1v1h-1zM484 254h1v1h-1zM672 254h1v1h-1zM484 255h1v1h-1zM672 255h1v1h-1zM484 256h1v1h-1zM672 256h1v1h-1zM484 257h1v1h-1zM672 257h1v1h-1zM484 258h1v1h-1zM672 258h1v1h-1zM484 259h1v1h-1zM672 259h1v1h-1zM484 260h1v1h-1zM672 260h1v1h-1zM484 261h1v1h-1zM672 261h1v1h-1zM484 262h1v1h-1zM672 262h1v1h-1zM484 263h1v1h-1zM672 263h1v1h-1zM484 264h1v1h-1zM672 264h1v1h-1zM484 265h1v1h-1zM672 265h1v1h-1zM484 266h1v1h-1zM672 266h1v1h-1zM484 267h1v1h-1zM672 267h1v1h-1zM484 268h1v1h-1zM672 268h1v1h-1zM484 269h1v1h-1zM672 269h1v1h-1zM484 270h1v1h-1zM672 270h1v1h-1zM484 271h1v1h-1zM484 272h1v1h-1zM484 273h1v1h-1zM484 274h1v1h-1zM484 275h1v1h-1zM484 276h1v1h-1zM484 277h1v1h-1zM484 278h1v1h-1zM484 279h1v1h-1zM484 280h1v1h-1zM484 281h1v1h-1zM484 282h1v1h-1zM484 283h1v1h-1zM484 284h1v1h-1zM484 285h1v1h-1zM484 286h1v1h-1zM484 287h1v1h-1zM484 288h1v1h-1zM484 289h1v1h-1zM484 290h1v1h-1zM484 291h1v1h-1zM484 292h1v1h-1zM484 293h1v1h-1zM484 294h1v1h-1zM484 295h1v1h-1zM484 296h1v1h-1zM484 297h1v1h-1zM484 298h1v1h-1zM484 299h1v1h-1zM484 300h1v1h-1zM484 301h1v1h-1zM484 302h1v1h-1zM484 303h1v1h-1zM484 304h1v1h-1zM484 305h1v1h-1zM484 306h1v1h-1zM484 307h1v1h-1zM489 312h121v1h-121zM484 316h1v1h-1zM484 317h1v1h-1zM484 318h1v1h-1zM484 319h1v1h-1zM484 320h1v1h-1zM484 321h1v1h-1zM484 322h1v1h-1zM484 323h1v1h-1zM484 324h1v1h-1zM484 325h1v1h-1zM484 326h1v1h-1zM484 327h1v1h-1zM484 328h1v1h-1zM484 329h1v1h-1zM484 330h1v1h-1zM484 331h1v1h-1zM484 332h1v1h-1zM484 333h1v1h-1zM484 334h1v1h-1zM484 335h1v1h-1zM484 336h1v1h-1zM484 337h1v1h-1zM484 338h1v1h-1zM484 339h1v1h-1zM484 340h1v1h-1zM484 341h1v1h-1zM484 342h1v1h-1zM484 343h1v1h-1zM484 344h1v1h-1zM484 345h1v1h-1zM484 346h1v1h-1zM484 347h1v1h-1zM484 348h1v1h-1zM484 349h1v1h-1zM484 350h1v1h-1zM484 351h1v1h-1zM484 352h1v1h-1zM484 353h1v1h-1zM484 354h1v1h-1zM672 354h1v1h-1zM484 355h1v1h-1zM672 355h1v1h-1zM484 356h1v1h-1zM672 356h1v1h-1zM484 357h1v1h-1zM672 357h1v1h-1zM484 358h1v1h-1zM672 358h1v1h-1zM484 359h1v1h-1zM672 359h1v1h-1zM484 360h1v1h-1zM672 360h1v1h-1zM484 361h1v1h-1zM672 361h1v1h-1zM484 362h1v1h-1zM672 362h1v1h-1zM484 363h1v1h-1zM672 363h1v1h-1zM484 364h1v1h-1zM672 364h1v1h-1zM484 365h1v1h-1zM672 365h1v1h-1zM484 366h1v1h-1zM672 366h1v1h-1zM484 367h1v1h-1zM672 367h1v1h-1zM484 368h1v1h-1zM672 368h1v1h-1zM484 369h1v1h-1zM672 369h1v1h-1zM484 370h1v1h-1zM672 370h1v1h-1zM484 371h1v1h-1zM672 371h1v1h-1zM484 372h1v1h-1zM672 372h1v1h-1zM484 373h1v1h-1zM672 373h1v1h-1zM484 374h1v1h-1zM672 374h1v1h-1zM484 375h1v1h-1zM672 375h1v1h-1zM484 376h1v1h-1zM672 376h1v1h-1zM484 377h1v1h-1zM672 377h1v1h-1zM484 378h1v1h-1zM672 378h1v1h-1zM484 379h1v1h-1zM672 379h1v1h-1zM484 380h1v1h-1zM672 380h1v1h-1zM484 381h1v1h-1zM672 381h1v1h-1zM484 382h1v1h-1zM672 382h1v1h-1zM484 383h1v1h-1zM672 383h1v1h-1zM484 384h1v1h-1zM672 384h1v1h-1zM484 385h1v1h-1zM672 385h1v1h-1zM484 386h1v1h-1zM672 386h1v1h-1zM484 387h1v1h-1zM672 387h1v1h-1zM484 388h1v1h-1zM672 388h1v1h-1zM484 389h1v1h-1zM672 389h1v1h-1zM484 390h1v1h-1zM672 390h1v1h-1zM484 391h1v1h-1zM672 391h1v1h-1zM484 392h1v1h-1zM672 392h1v1h-1zM484 393h1v1h-1zM672 393h1v1h-1zM484 394h1v1h-1zM672 394h1v1h-1zM484 395h1v1h-1zM672 395h1v1h-1zM484 396h1v1h-1zM672 396h1v1h-1zM484 397h1v1h-1zM672 397h1v1h-1zM484 398h1v1h-1zM672 398h1v1h-1zM484 399h1v1h-1zM672 399h1v1h-1zM484 400h1v1h-1zM672 400h1v1h-1zM484 401h1v1h-1zM672 401h1v1h-1zM484 402h1v1h-1zM672 402h1v1h-1zM484 403h1v1h-1zM672 403h1v1h-1zM484 404h1v1h-1zM672 404h1v1h-1zM484 405h1v1h-1zM672 405h1v1h-1zM484 406h1v1h-1zM672 406h1v1h-1zM484 407h1v1h-1zM672 407h1v1h-1zM484 408h1v1h-1zM672 408h1v1h-1zM484 409h1v1h-1zM672 409h1v1h-1zM484 410h1v1h-1zM672 410h1v1h-1zM484 411h1v1h-1zM672 411h1v1h-1zM484 412h1v1h-1zM672 412h1v1h-1zM484 413h1v1h-1zM672 413h1v1h-1zM484 414h1v1h-1zM672 414h1v1h-1zM484 415h1v1h-1zM672 415h1v1h-1zM672 416h1v1h-1zM672 417h1v1h-1zM672 418h1v1h-1zM672 419h1v1h-1zM672 420h1v1h-1zM672 421h1v1h-1zM672 422h1v1h-1zM672 423h1v1h-1zM672 424h1v1h-1zM672 425h1v1h-1zM672 426h1v1h-1zM672 427h1v1h-1zM672 428h1v1h-1zM672 429h1v1h-1zM672 430h1v1h-1zM672 431h1v1h-1zM672 432h1v1h-1zM672 433h1v1h-1zM672 434h1v1h-1zM672 435h1v1h-1zM672 436h1v1h-1zM672 437h1v1h-1zM672 438h1v1h-1zM672 439h1v1h-1zM672 440h1v1h-1zM672 441h1v1h-1zM672 442h1v1h-1zM672 443h1v1h-1zM672 444h1v1h-1zM672 445h1v1h-1zM672 446h1v1h-1zM672 447h1v1h-1zM672 448h1v1h-1zM672 449h1v1h-1zM672 450h1v1h-1zM672 451h1v1h-1zM672 452h1v1h-1zM672 453h1v1h-1zM672 454h1v1h-1zM672 455h1v1h-1zM672 456h1v1h-1zM672 457h1v1h-1zM49 458h124v1h-124zM276 458h146v1h-146zM672 458h1v1h-1zM672 459h1v1h-1zM672 460h1v1h-1zM672 461h1v1h-1zM672 462h1v1h-1zM672 463h1v1h-1zM672 464h1v1h-1zM672 465h1v1h-1zM672 466h1v1h-1zM672 467h1v1h-1zM672 468h1v1h-1zM672 469h1v1h-1zM672 470h1v1h-1zM672 471h1v1h-1zM672 472h1v1h-1zM672 473h1v1h-1zM672 474h1v1h-1zM672 475h1v1h-1zM672 476h1v1h-1zM672 477h1v1h-1zM672 478h1v1h-1zM672 479h1v1h-1zM672 480h1v1h-1zM672 481h1v1h-1zM672 482h1v1h-1zM672 483h1v1h-1zM672 484h1v1h-1zM672 485h1v1h-1zM672 486h1v1h-1zM672 487h1v1h-1zM672 488h1v1h-1zM672 489h1v1h-1zM672 490h1v1h-1zM672 491h1v1h-1zM672 492h1v1h-1zM672 493h1v1h-1zM672 494h1v1h-1zM672 495h1v1h-1zM672 496h1v1h-1zM672 497h1v1h-1zM672 498h1v1h-1zM484 499h1v1h-1zM672 499h1v1h-1zM484 500h1v1h-1zM672 500h1v1h-1zM484 501h1v1h-1zM672 501h1v1h-1zM484 502h1v1h-1zM672 502h1v1h-1zM484 503h1v1h-1zM672 503h1v1h-1zM484 504h1v1h-1zM672 504h1v1h-1zM484 505h1v1h-1zM672 505h1v1h-1zM484 506h1v1h-1zM672 506h1v1h-1zM484 507h1v1h-1zM672 507h1v1h-1zM484 508h1v1h-1zM672 508h1v1h-1zM484 509h1v1h-1zM672 509h1v1h-1zM484 510h1v1h-1zM672 510h1v1h-1zM484 511h1v1h-1zM672 511h1v1h-1zM484 512h1v1h-1zM672 512h1v1h-1zM484 513h1v1h-1zM672 513h1v1h-1zM484 514h1v1h-1zM672 514h1v1h-1zM484 515h1v1h-1zM672 515h1v1h-1zM672 516h1v1h-1zM672 517h1v1h-1zM672 518h1v1h-1zM672 519h1v1h-1zM489 520h184v1h-184zM484 524h1v1h-1zM484 525h1v1h-1zM484 526h1v1h-1zM484 527h1v1h-1zM484 528h1v1h-1zM484 529h1v1h-1zM484 530h1v1h-1zM484 531h1v1h-1zM484 532h1v1h-1zM484 533h1v1h-1zM484 534h1v1h-1zM484 535h1v1h-1zM484 536h1v1h-1zM484 537h1v1h-1zM484 538h1v1h-1zM484 539h1v1h-1zM484 540h1v1h-1zM484 541h1v1h-1zM484 542h1v1h-1zM484 543h1v1h-1zM484 544h1v1h-1zM484 545h1v1h-1zM484 546h1v1h-1zM484 547h1v1h-1zM484 548h1v1h-1zM484 549h1v1h-1zM484 550h1v1h-1zM484 551h1v1h-1zM484 552h1v1h-1zM484 553h1v1h-1zM484 554h1v1h-1zM484 555h1v1h-1zM484 556h1v1h-1zM484 557h1v1h-1zM484 558h1v1h-1zM484 559h1v1h-1zM484 560h1v1h-1zM484 561h1v1h-1zM484 562h1v1h-1zM484 563h1v1h-1zM484 564h1v1h-1zM484 565h1v1h-1zM484 566h1v1h-1zM484 567h1v1h-1zM484 568h1v1h-1zM484 569h1v1h-1zM484 570h1v1h-1zM484 571h1v1h-1zM484 572h1v1h-1zM484 573h1v1h-1zM484 574h1v1h-1zM484 575h1v1h-1zM484 576h1v1h-1zM484 577h1v1h-1zM484 578h1v1h-1zM484 579h1v1h-1zM484 580h1v1h-1zM484 581h1v1h-1zM484 582h1v1h-1zM484 583h1v1h-1zM484 584h1v1h-1zM484 585h1v1h-1zM484 586h1v1h-1zM484 587h1v1h-1zM484 588h1v1h-1zM484 589h1v1h-1zM484 590h1v1h-1zM484 591h1v1h-1zM484 592h1v1h-1zM484 593h1v1h-1zM484 594h1v1h-1zM484 595h1v1h-1zM484 596h1v1h-1zM484 597h1v1h-1zM484 598h1v1h-1zM484 599h1v1h-1zM484 600h1v1h-1zM484 601h1v1h-1zM484 602h1v1h-1zM484 603h1v1h-1zM484 604h1v1h-1zM484 605h1v1h-1zM484 606h1v1h-1zM484 607h1v1h-1zM484 608h1v1h-1zM484 609h1v1h-1zM484 610h1v1h-1zM484 611h1v1h-1zM484 612h1v1h-1zM484 613h1v1h-1zM484 614h1v1h-1zM484 615h1v1h-1zM484 616h1v1h-1zM484 617h1v1h-1zM484 618h1v1h-1zM484 619h1v1h-1zM484 620h1v1h-1zM484 621h1v1h-1zM484 622h1v1h-1zM484 623h1v1h-1z" fill="#800040"/>
<path d="M483 42h3v1h-3zM670 42h3v1h-3zM481 43h2v1h-2zM486 43h2v1h-2zM668 43h2v1h-2zM673 43h2v1h-2zM480 44h1v1h-1zM488 44h1v1h-1zM667 44h1v1h-1zM675 44h1v1h-1zM479 45h1v1h-1zM489 45h1v1h-1zM666 45h1v1h-1zM676 45h1v1h-1zM479 46h1v1h-1zM489 46h1v1h-1zM666 46h1v1h-1zM676 46h1v1h-1zM478 47h1v1h-1zM490 47h1v1h-1zM665 47h1v1h-1zM677 47h1v1h-1zM478 48h1v1h-1zM490 48h1v1h-1zM665 48h1v1h-1zM677 48h1v1h-1zM479 49h1v1h-1zM489 49h1v1h-1zM666 49h1v1h-1zM676 49h1v1h-1zM479 50h1v1h-1zM489 50h1v1h-1zM666 50h1v1h-1zM676 50h1v1h-1zM480 51h1v1h-1zM488 51h1v1h-1zM667 51h1v1h-1zM675 51h1v1h-1zM481 52h2v1h-2zM486 52h2v1h-2zM668 52h2v1h-2zM673 52h2v1h-2zM483 53h3v1h-3zM670 53h3v1h-3zM484 54h1v1h-1zM672 54h1v1h-1zM484 55h1v1h-1zM672 55h1v1h-1zM484 56h1v1h-1zM672 56h1v1h-1zM484 57h1v1h-1zM672 57h1v1h-1zM484 58h1v1h-1zM672 58h1v1h-1zM484 59h1v1h-1zM672 59h1v1h-1zM484 60h1v1h-1zM672 60h1v1h-1zM484 61h1v1h-1zM672 61h1v1h-1zM484 62h1v1h-1zM672 62h1v1h-1zM484 126h1v1h-1zM672 126h1v1h-1zM484 127h1v1h-1zM672 127h1v1h-1zM484 128h1v1h-1zM672 128h1v1h-1zM484 129h1v1h-1zM672 129h1v1h-1zM484 130h1v1h-1zM672 130h1v1h-1zM484 131h1v1h-1zM672 131h1v1h-1zM484 132h1v1h-1zM672 132h1v1h-1zM484 133h1v1h-1zM672 133h1v1h-1zM484 134h1v1h-1zM672 134h1v1h-1zM484 135h1v1h-1zM672 135h1v1h-1zM484 136h1v1h-1zM672 136h1v1h-1zM484 137h1v1h-1zM672 137h1v1h-1zM484 138h1v1h-1zM672 138h1v1h-1zM484 139h1v1h-1zM672 139h1v1h-1zM484 140h1v1h-1zM672 140h1v1h-1zM484 141h1v1h-1zM672 141h1v1h-1zM484 142h1v1h-1zM672 142h1v1h-1zM484 143h1v1h-1zM672 143h1v1h-1zM484 144h1v1h-1zM672 144h1v1h-1zM484 145h1v1h-1zM672 145h1v1h-1zM484 146h1v1h-1zM672 146h1v1h-1zM484 208h1v1h-1zM672 208h1v1h-1zM484 209h1v1h-1zM672 209h1v1h-1zM484 210h1v1h-1zM672 210h1v1h-1zM484 211h1v1h-1zM672 211h1v1h-1zM484 212h1v1h-1zM672 212h1v1h-1zM484 213h1v1h-1zM672 213h1v1h-1zM484 214h1v1h-1zM672 214h1v1h-1zM484 215h1v1h-1zM672 215h1v1h-1zM484 216h1v1h-1zM672 216h1v1h-1zM484 217h1v1h-1zM672 217h1v1h-1zM484 218h1v1h-1zM672 218h1v1h-1zM484 219h1v1h-1zM672 219h1v1h-1zM484 220h1v1h-1zM672 220h1v1h-1zM484 221h1v1h-1zM672 221h1v1h-1zM484 222h1v1h-1zM672 222h1v1h-1zM484 223h1v1h-1zM672 223h1v1h-1zM484 224h1v1h-1zM672 224h1v1h-1zM484 225h1v1h-1zM672 225h1v1h-1zM484 226h1v1h-1zM672 226h1v1h-1zM484 227h1v1h-1zM672 227h1v1h-1zM484 228h1v1h-1zM672 228h1v1h-1zM672 271h1v1h-1zM672 272h1v1h-1zM672 273h1v1h-1zM672 274h1v1h-1zM672 275h1v1h-1zM672 276h1v1h-1zM672 277h1v1h-1zM672 278h1v1h-1zM672 279h1v1h-1zM672 280h1v1h-1zM672 281h1v1h-1zM672 282h1v1h-1zM672 283h1v1h-1zM672 284h1v1h-1zM672 285h1v1h-1zM672 286h1v1h-1zM672 287h1v1h-1zM672 288h1v1h-1zM672 289h1v1h-1zM672 290h1v1h-1zM672 291h1v1h-1zM610 312h21v1h-21zM672 333h1v1h-1zM672 334h1v1h-1zM672 335h1v1h-1zM672 336h1v1h-1zM672 337h1v1h-1zM672 338h1v1h-1zM672 339h1v1h-1zM672 340h1v1h-1zM672 341h1v1h-1zM672 342h1v1h-1zM672 343h1v1h-1zM672 344h1v1h-1zM672 345h1v1h-1zM672 346h1v1h-1zM672 347h1v1h-1zM672 348h1v1h-1zM672 349h1v1h-1zM672 350h1v1h-1zM672 351h1v1h-1zM672 352h1v1h-1zM672 353h1v1h-1zM484 417h1v1h-1zM484 418h1v1h-1zM484 419h1v1h-1zM484 420h1v1h-1zM484 421h1v1h-1zM484 422h1v1h-1zM484 423h1v1h-1zM484 424h1v1h-1zM484 425h1v1h-1zM484 426h1v1h-1zM484 427h1v1h-1zM484 428h1v1h-1zM484 429h1v1h-1zM484 430h1v1h-1zM484 431h1v1h-1zM484 432h1v1h-1zM484 433h1v1h-1zM484 434h1v1h-1zM484 435h1v1h-1zM484 436h1v1h-1zM484 437h1v1h-1zM173 458h21v1h-21zM256 458h20v1h-20zM423 458h21v1h-21zM484 479h1v1h-1zM484 480h1v1h-1zM484 481h1v1h-1zM484 482h1v1h-1zM484 483h1v1h-1zM484 484h1v1h-1zM484 485h1v1h-1zM484 486h1v1h-1zM484 487h1v1h-1zM484 488h1v1h-1zM484 489h1v1h-1zM484 490h1v1h-1zM484 491h1v1h-1zM484 492h1v1h-1zM484 493h1v1h-1zM484 494h1v1h-1zM484 495h1v1h-1zM484 496h1v1h-1zM484 497h1v1h-1zM484 498h1v1h-1zM464 624h41v1h-41zM470 630h29v1h-29zM477 637h17v1h-17zM482 643h4v1h-4z" fill="#ff0000"/>
<path d="M483 147h1v1h-1zM671 147h1v1h-1zM482 148h1v1h-1zM670 148h1v1h-1zM481 149h1v1h-1zM669 149h1v1h-1zM480 150h1v1h-1zM667 150h2v1h-2zM479 151h1v1h-1zM666 151h1v1h-1zM478 152h1v1h-1zM665 152h1v1h-1zM479 153h1v1h-1zM666 153h1v1h-1zM480 154h1v1h-1zM667 154h1v1h-1zM481 155h1v1h-1zM668 155h1v1h-1zM482 156h1v1h-1zM669 156h1v1h-1zM483 157h1v1h-1zM670 157h1v1h-1zM484 158h1v1h-1zM671 158h1v1h-1zM485 159h1v1h-1zM672 159h1v1h-1zM486 160h1v1h-1zM673 160h1v1h-1zM487 161h1v1h-1zM674 161h1v1h-1zM488 162h1v1h-1zM675 162h1v1h-1zM489 163h1v1h-1zM676 163h1v1h-1zM490 164h1v1h-1zM677 164h1v1h-1zM491 165h1v1h-1zM678 165h1v1h-1zM490 166h1v1h-1zM677 166h1v1h-1zM489 167h1v1h-1zM676 167h1v1h-1zM488 168h1v1h-1zM675 168h1v1h-1zM487 169h1v1h-1zM674 169h1v1h-1zM486 170h1v1h-1zM673 170h1v1h-1zM484 171h2v1h-2zM671 171h2v1h-2zM483 172h1v1h-1zM670 172h1v1h-1zM482 173h1v1h-1zM669 173h1v1h-1zM481 174h1v1h-1zM668 174h1v1h-1zM480 175h1v1h-1zM667 175h1v1h-1zM479 176h1v1h-1zM666 176h1v1h-1zM478 177h1v1h-1zM665 177h1v1h-1zM479 178h1v1h-1zM666 178h1v1h-1zM480 179h1v1h-1zM667 179h1v1h-1zM481 180h1v1h-1zM668 180h1v1h-1zM482 181h1v1h-1zM669 181h1v1h-1zM483 182h1v1h-1zM670 182h1v1h-1zM484 183h2v1h-2zM671 183h2v1h-2zM486 184h1v1h-1zM673 184h1v1h-1zM487 185h1v1h-1zM674 185h1v1h-1zM488 186h1v1h-1zM675 186h1v1h-1zM489 187h1v1h-1zM676 187h1v1h-1zM490 188h1v1h-1zM677 188h1v1h-1zM491 189h1v1h-1zM678 189h1v1h-1zM490 190h1v1h-1zM677 190h1v1h-1zM489 191h1v1h-1zM676 191h1v1h-1zM488 192h1v1h-1zM675 192h1v1h-1zM487 193h1v1h-1zM674 193h1v1h-1zM486 194h1v1h-1zM673 194h1v1h-1zM485 195h1v1h-1zM672 195h1v1h-1zM484 196h1v1h-1zM671 196h1v1h-1zM483 197h1v1h-1zM670 197h1v1h-1zM482 198h1v1h-1zM669 198h1v1h-1zM481 199h1v1h-1zM668 199h1v1h-1zM480 200h1v1h-1zM667 200h1v1h-1zM479 201h1v1h-1zM666 201h1v1h-1zM478 202h1v1h-1zM665 202h1v1h-1zM479 203h1v1h-1zM666 203h1v1h-1zM480 204h1v1h-1zM667 204h1v1h-1zM481 205h1v1h-1zM668 205h2v1h-2zM482 206h1v1h-1zM670 206h1v1h-1zM483 207h1v1h-1zM671 207h1v1h-1zM651 291h1v1h-1zM651 292h1v1h-1zM670 292h2v1h-2zM651 293h1v1h-1zM669 293h1v1h-1zM651 294h1v1h-1zM668 294h1v1h-1zM651 295h1v1h-1zM666 295h2v1h-2zM651 296h1v1h-1zM665 296h1v1h-1zM651 297h1v1h-1zM663 297h2v1h-2zM651 298h1v1h-1zM662 298h1v1h-1zM651 299h1v1h-1zM661 299h1v1h-1zM651 300h1v1h-1zM659 300h2v1h-2zM651 301h1v1h-1zM658 301h1v1h-1zM651 302h1v1h-1zM656 302h2v1h-2zM651 303h1v1h-1zM655 303h1v1h-1zM651 304h1v1h-1zM654 304h1v1h-1zM651 305h3v1h-3zM651 306h1v1h-1zM651 307h1v1h-1zM651 308h1v1h-1zM651 309h1v1h-1zM651 310h1v1h-1zM651 311h1v1h-1zM631 312h21v1h-21zM651 313h1v1h-1zM651 314h1v1h-1zM651 315h1v1h-1zM651 316h1v1h-1zM651 317h1v1h-1zM651 318h1v1h-1zM651 319h3v1h-3zM651 320h1v1h-1zM654 320h1v1h-1zM651 321h1v1h-1zM655 321h1v1h-1zM651 322h1v1h-1zM656 322h2v1h-2zM651 323h1v1h-1zM658 323h1v1h-1zM663 323h1v1h-1zM651 324h1v1h-1zM659 324h2v1h-2zM662 324h3v1h-3zM651 325h1v1h-1zM661 325h5v1h-5zM651 326h1v1h-1zM661 326h6v1h-6zM651 327h1v1h-1zM660 327h8v1h-8zM651 328h1v1h-1zM660 328h8v1h-8zM651 329h1v1h-1zM659 329h10v1h-10zM651 330h1v1h-1zM661 330h9v1h-9zM651 331h1v1h-1zM664 331h7v1h-7zM651 332h1v1h-1zM668 332h4v1h-4zM671 333h1v1h-1zM464 437h1v1h-1zM464 438h1v1h-1zM482 438h2v1h-2zM464 439h1v1h-1zM481 439h1v1h-1zM464 440h1v1h-1zM480 440h1v1h-1zM464 441h1v1h-1zM478 441h2v1h-2zM464 442h1v1h-1zM477 442h1v1h-1zM464 443h1v1h-1zM476 443h1v1h-1zM464 444h1v1h-1zM474 444h2v1h-2zM464 445h1v1h-1zM473 445h1v1h-1zM464 446h1v1h-1zM472 446h1v1h-1zM464 447h1v1h-1zM470 447h2v1h-2zM464 448h1v1h-1zM469 448h1v1h-1zM464 449h1v1h-1zM468 449h1v1h-1zM464 450h1v1h-1zM466 450h2v1h-2zM464 451h2v1h-2zM199 452h1v1h-1zM224 452h1v1h-1zM249 452h1v1h-1zM464 452h1v1h-1zM198 453h1v1h-1zM200 453h1v1h-1zM223 453h1v1h-1zM225 453h1v1h-1zM248 453h1v1h-1zM250 453h1v1h-1zM464 453h1v1h-1zM197 454h1v1h-1zM201 454h1v1h-1zM222 454h1v1h-1zM226 454h1v1h-1zM247 454h1v1h-1zM251 454h1v1h-1zM464 454h1v1h-1zM196 455h1v1h-1zM202 455h1v1h-1zM221 455h1v1h-1zM227 455h1v1h-1zM246 455h1v1h-1zM252 455h2v1h-2zM464 455h1v1h-1zM195 456h1v1h-1zM203 456h1v1h-1zM220 456h1v1h-1zM228 456h1v1h-1zM245 456h1v1h-1zM254 456h1v1h-1zM464 456h1v1h-1zM194 457h1v1h-1zM204 457h1v1h-1zM219 457h1v1h-1zM229 457h1v1h-1zM244 457h1v1h-1zM255 457h1v1h-1zM464 457h1v1h-1zM205 458h2v1h-2zM218 458h1v1h-1zM230 458h2v1h-2zM243 458h1v1h-1zM444 458h21v1h-21zM207 459h1v1h-1zM217 459h1v1h-1zM232 459h1v1h-1zM242 459h1v1h-1zM464 459h1v1h-1zM208 460h1v1h-1zM216 460h1v1h-1zM233 460h1v1h-1zM241 460h1v1h-1zM464 460h1v1h-1zM209 461h1v1h-1zM215 461h1v1h-1zM234 461h1v1h-1zM240 461h1v1h-1zM464 461h1v1h-1zM210 462h1v1h-1zM214 462h1v1h-1zM235 462h1v1h-1zM239 462h1v1h-1zM464 462h1v1h-1zM211 463h1v1h-1zM213 463h1v1h-1zM236 463h1v1h-1zM238 463h1v1h-1zM464 463h1v1h-1zM212 464h1v1h-1zM237 464h1v1h-1zM464 464h1v1h-1zM464 465h3v1h-3zM464 466h1v1h-1zM467 466h1v1h-1zM464 467h1v1h-1zM468 467h1v1h-1zM464 468h1v1h-1zM469 468h2v1h-2zM476 468h1v1h-1zM464 469h1v1h-1zM471 469h1v1h-1zM475 469h3v1h-3zM464 470h1v1h-1zM472 470h1v1h-1zM475 470h3v1h-3zM464 471h1v1h-1zM473 471h6v1h-6zM464 472h1v1h-1zM473 472h7v1h-7zM464 473h1v1h-1zM473 473h8v1h-8zM464 474h1v1h-1zM472 474h9v1h-9zM464 475h1v1h-1zM474 475h8v1h-8zM464 476h1v1h-1zM476 476h7v1h-7zM464 477h1v1h-1zM479 477h5v1h-5zM464 478h1v1h-1zM481 478h3v1h-3zM483 479h1v1h-1z" fill="#0000ff"/>
<path d="M483 308h3v1h-3zM481 309h7v1h-7zM481 310h7v1h-7zM480 311h9v1h-9zM480 312h9v1h-9zM481 313h7v1h-7zM481 314h7v1h-7zM483 315h3v1h-3zM483 516h3v1h-3zM481 517h7v1h-7zM481 518h7v1h-7zM480 519h9v1h-9zM480 520h9v1h-9zM481 521h7v1h-7zM481 522h7v1h-7zM483 523h3v1h-3z" fill="#ff00ff"/>
<path d="M210.9 441h1.9v13h-1.9z" fill="#000080" shape-rendering="geometricPrecision"/>
<path d="M211.3 441 L208 444.4 L208 445.8 L211.3 442.7z" fill="#000080" shape-rendering="geometricPrecision"/>
</g>
<text x="463.9" y="38" font-size="18" fill="#000000" stroke="#000000" letter-spacing="-0.35">VCC</text>
<text x="650.9" y="38" font-size="18" fill="#000000" stroke="#000000" letter-spacing="-0.35">VCC</text>
<text x="504.9" y="163" font-size="18" fill="#000080" stroke="#000080" letter-spacing="0.1">R26</text>
<text x="691.8" y="163" font-size="18" fill="#000080" stroke="#000080" letter-spacing="0.1">R25</text>
<text x="737.7" y="225" font-size="18" fill="#ff0000" stroke="#ff0000" letter-spacing="0.4">OUTPUT</text>
<text x="691.5" y="308" font-size="18" fill="#000080" stroke="#000080">U4</text>
<text x="504.5" y="454" font-size="18" fill="#000080" stroke="#000080">U3</text>
<text x="71.5" y="454" font-size="18" fill="#ff0000" stroke="#ff0000">INPUT</text>
<text x="192.7" y="454" font-size="18" fill="#000080" stroke="#000080">R</text>
<text x="216.2" y="454" font-size="18" fill="#000080" stroke="#000080">9</text>
<text transform="translate(589.7 301) scale(1.1 1.055)" font-size="22" fill="#ff0000" stroke="#ff0000" style="stroke-width:0.15px">b</text>
<text transform="translate(679 270) scale(1.057 0.908)" font-size="22" fill="#ff0000" stroke="#ff0000" style="stroke-width:0.15px">c</text>
<text transform="translate(682 374) scale(1.01 0.916)" font-size="22" fill="#ff0000" stroke="#ff0000" style="stroke-width:0.15px">e</text>
<text transform="translate(398.7 452) scale(1.1 1.055)" font-size="22" fill="#ff0000" stroke="#ff0000" style="stroke-width:0.15px">b</text>
<text transform="translate(494 401) scale(1.057 0.908)" font-size="22" fill="#ff0000" stroke="#ff0000" style="stroke-width:0.15px">c</text>
<text transform="translate(500 507) scale(1.01 0.916)" font-size="22" fill="#ff0000" stroke="#ff0000" style="stroke-width:0.15px">e</text>
</svg>
</body></html>
